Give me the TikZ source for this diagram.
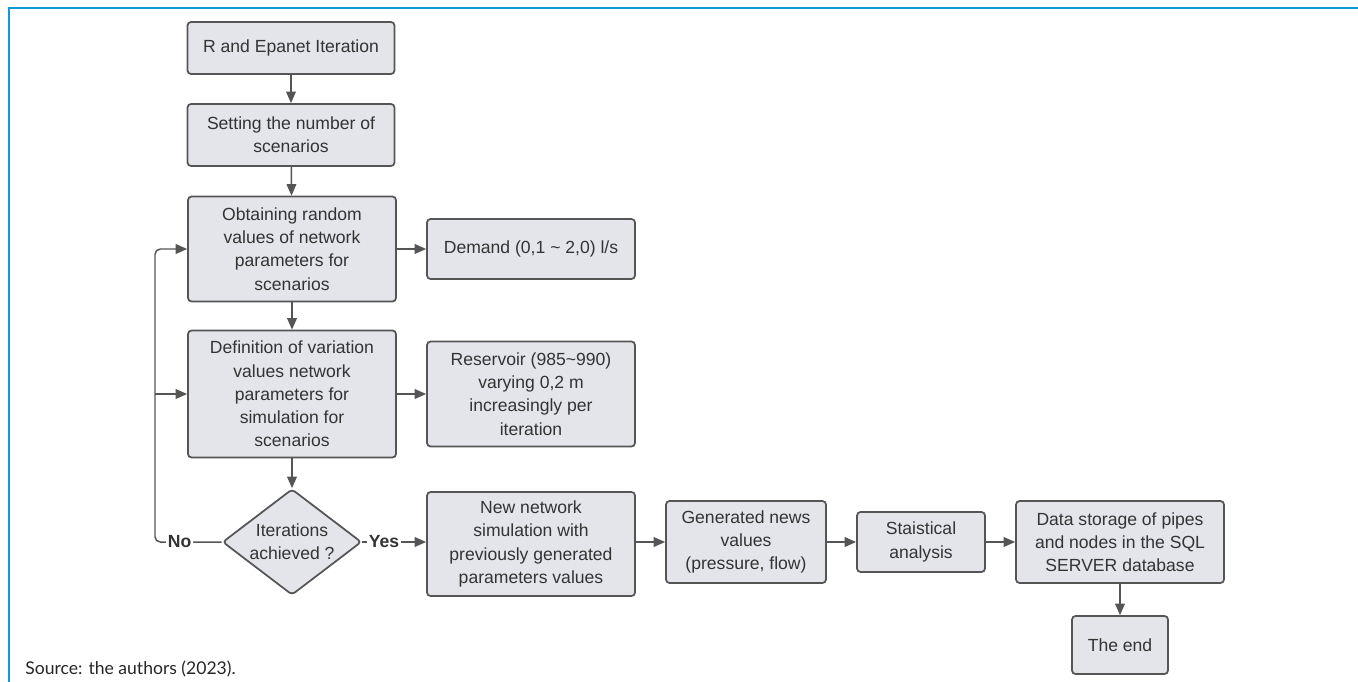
\documentclass[tikz,border=0pt]{standalone}
\usepackage{fontspec}
\setmainfont{Liberation Sans}
\newfontfamily\sourcefont{Lato}
\usetikzlibrary{shapes.geometric,arrows.meta}
\definecolor{boxfill}{HTML}{E3E5EA}
\definecolor{boxline}{HTML}{555555}
\definecolor{txtgray}{HTML}{333333}
\definecolor{framecol}{HTML}{0C9BD8}

\begin{document}
\begin{tikzpicture}[x=0.02cm,y=-0.02cm,
    box/.style={rectangle,rounded corners=2pt,draw=boxline,line width=1pt,fill=boxfill,text=txtgray,align=center,inner sep=0pt,font=\fontsize{10}{13.2}\selectfont},
    decision/.style={diamond,aspect=1.3,rounded corners=2pt,draw=boxline,line width=1pt,fill=boxfill,text=txtgray,align=center,inner sep=0pt,font=\fontsize{10}{13.2}\selectfont},
    flow/.style={draw=boxline,line width=0.85pt,-{Triangle[length=6.5pt,width=5.5pt]}},
    answer/.style={fill=white,text=txtgray,inner sep=1pt,font=\fontsize{10}{12}\selectfont\bfseries}]
    \useasboundingbox (0,0) rectangle (1358,682);
    \draw[framecol,line width=1.5pt] (1360,8) -- (9,8) -- (9,684);
    \node[anchor=west,inner sep=0pt,text=black!85,font=\sourcefont\fontsize{10}{12}\selectfont] (src) at (25,669) {Source: the authors (2023).};

    \begin{scope}[every node/.style={box}]
        \node[minimum width=4.14cm,minimum height=1.04cm] (start) at (291,48) {R and Epanet Iteration};
        \node[minimum width=4.14cm,minimum height=1.24cm] (nscen) at (291,135) {Setting the number of\\scenarios};
        \node[minimum width=4.16cm,minimum height=2.1cm] (obt) at (292,249) {Obtaining random\\values of network\\parameters for\\scenarios};
        \node[minimum width=4.16cm,minimum height=1.2cm] (demand) at (531,249) {Demand (0,1 \char`~\ 2,0) l/s};
        \node[minimum width=4.16cm,minimum height=2.54cm] (def) at (292,394) {Definition of variation\\values network\\parameters for\\simulation for\\scenarios};
        \node[minimum width=4.16cm,minimum height=2.1cm] (reserv) at (531,394) {Reservoir (985\char`~990)\\varying 0,2 m\\increasingly per\\iteration};
        \node[minimum width=4.16cm,minimum height=2.08cm] (sim) at (531,544) {New network\\simulation with\\previously generated\\parameters values};
        \node[minimum width=3.2cm,minimum height=1.64cm] (gen) at (746,542) {Generated news\\values\\(pressure, flow)};
        \node[minimum width=2.56cm,minimum height=1.2cm] (stat) at (921,542) {Staistical\\analysis};
        \node[minimum width=4.16cm,minimum height=1.64cm] (store) at (1120,542) {Data storage of pipes\\and nodes in the SQL\\SERVER database};
        \node[minimum width=1.92cm,minimum height=1.16cm] (end) at (1120,645) {The end};
    \end{scope}
    \node[decision,minimum width=2.78cm,minimum height=2.12cm] (dec) at (292,542) {Iterations\\achieved ?};
    \coordinate (loop) at (155,542);

    \draw (start) edge[flow] (nscen);
    \draw (nscen) edge[flow] (obt);
    \draw (obt) edge[flow] (demand);
    \draw (obt) edge[flow] (def);
    \draw (def) edge[flow] (reserv);
    \draw (def) edge[flow] (dec);
    \draw (dec.east) edge[flow] node[answer,pos=0.34]{Yes} (sim.west |- dec.east);
    \draw[flow,rounded corners=3pt] (dec.west) -- node[answer,pos=0.63]{No} (loop) |- (obt.west);
    \draw[flow] (loop |- def.west) -- (def.west);
    \draw (sim.east |- gen.west) edge[flow] (gen.west);
    \draw (gen) edge[flow] (stat);
    \draw (stat) edge[flow] (store);
    \draw (store) edge[flow] (end);
\end{tikzpicture}
\end{document}
